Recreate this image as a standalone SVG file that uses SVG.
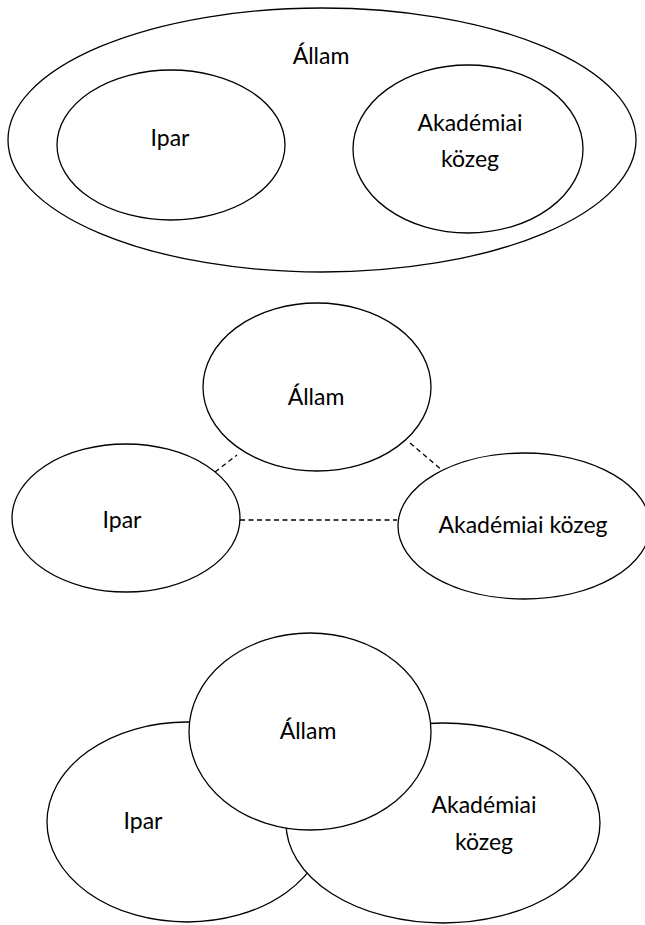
<svg xmlns="http://www.w3.org/2000/svg" width="645" height="925" viewBox="0 0 645 925">
<style>
.n{fill:#fff;stroke:#000;stroke-width:1.3}
.t{font-family:Lato,"Open Sans","Liberation Sans",sans-serif;font-size:23px;fill:#000;text-anchor:middle}
.d{stroke:#000;stroke-width:1.3;stroke-dasharray:5 3.5;fill:none}
</style>
<rect width="645" height="925" fill="#fff"/>
<!-- Diagram 1 -->
<g id="allam1"><ellipse class="n" cx="322" cy="140" rx="314" ry="132"/><text class="t" x="321" y="64">Állam</text></g>
<g id="ipar1"><ellipse class="n" cx="171" cy="145" rx="114" ry="75"/><text class="t" x="170" y="146">Ipar</text></g>
<g id="akad1"><ellipse class="n" cx="468" cy="149" rx="115" ry="84"/><text class="t" x="470" y="131">Akadémiai</text><text class="t" x="470" y="167">közeg</text></g>
<!-- Diagram 2 -->
<g id="connectors">
<line class="d" x1="215" y1="472" x2="237" y2="455"/>
<line class="d" x1="410" y1="443" x2="442" y2="470"/>
<line class="d" x1="240" y1="520" x2="397" y2="520"/>
</g>
<g id="allam2"><ellipse class="n" cx="317" cy="387" rx="114" ry="84"/><text class="t" x="316" y="405">Állam</text></g>
<g id="ipar2"><ellipse class="n" cx="126" cy="518" rx="114" ry="74"/><text class="t" x="122" y="528">Ipar</text></g>
<g id="akad2"><ellipse class="n" cx="524" cy="526" rx="126" ry="73"/><text class="t" x="523" y="533">Akadémiai közeg</text></g>
<!-- Diagram 3 -->
<g id="ipar3"><ellipse class="n" cx="187" cy="822" rx="140" ry="100"/><text class="t" x="143" y="829">Ipar</text></g>
<g id="akad3"><ellipse class="n" cx="443" cy="823" rx="157" ry="100"/><text class="t" x="484" y="813">Akadémiai</text><text class="t" x="484" y="850">közeg</text></g>
<g id="allam3"><ellipse class="n" cx="310" cy="731.5" rx="121" ry="98.5"/><text class="t" x="308" y="739">Állam</text></g>
</svg>
